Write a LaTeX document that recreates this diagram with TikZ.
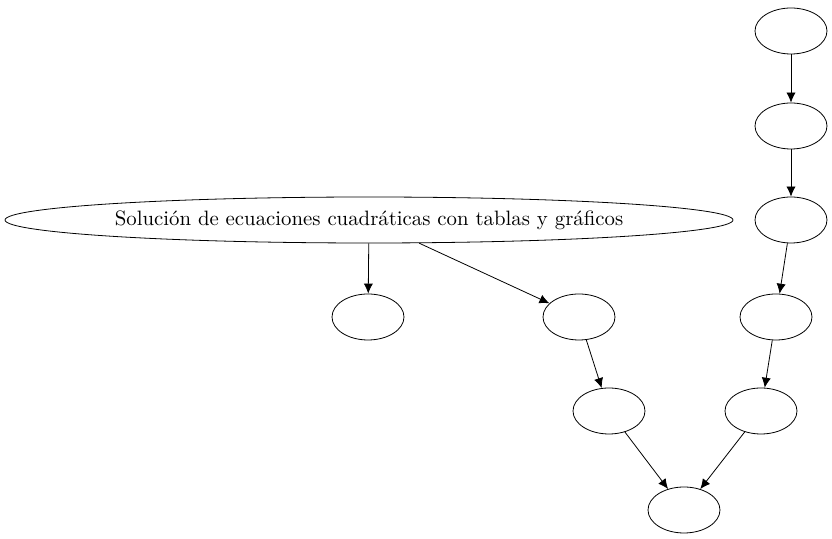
\documentclass[tikz,border=0pt]{standalone}
\usetikzlibrary{arrows.meta, shapes.geometric}
\tikzset{
  topic/.style={draw, ellipse, inner sep=0pt, minimum width=36pt, minimum height=23pt},
  bigtopic/.style={topic, minimum width=364pt, font=\fontsize{10.4}{12}\selectfont},
  link/.style={-{Latex[length=5pt,width=4.6pt]}, line width=0.4pt}
}
\begin{document}
\begin{tikzpicture}[x=0.5pt, y=-0.5pt]
  \useasboundingbox (0,0) rectangle (832,539);
  % right-hand chain
  \node[topic] (a) at (791,31) {};
  \node[topic] (b) at (791,126) {};
  \node[topic] (c) at (791,220) {};
  \node[topic] (d) at (776,317) {};
  \node[topic] (e) at (761,411) {};
  \node[topic] (f) at (684,510) {};
  % main topic and its children
  \node[bigtopic] (main) at (369,220) {\makebox[0pt]{Solución de ecuaciones cuadráticas con tablas y gráficos}};
  \node[topic] (g) at (368,317) {};
  \node[topic] (h) at (579,317) {};
  \node[topic] (i) at (609,411) {};
  \draw[link] (a) -- (b);
  \draw[link] (b) -- (c);
  \draw[link] (c) -- (d);
  \draw[link] (d) -- (e);
  \draw[link] (e) -- (f);
  \draw[link] (main) -- (g);
  \draw[link] (main) -- (h);
  \draw[link] (h) -- (i);
  \draw[link] (i) -- (f);
\end{tikzpicture}
\end{document}
